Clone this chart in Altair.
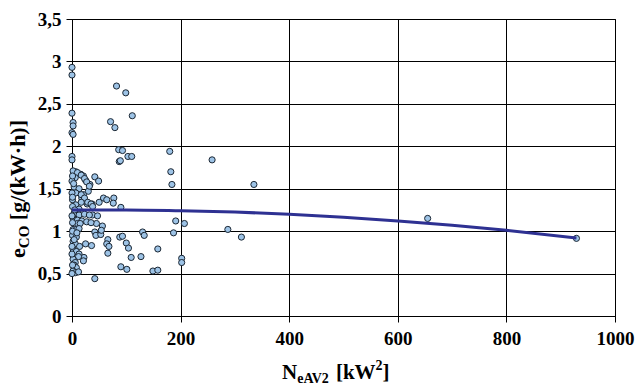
import altair as alt
import pandas as pd

# Scatter data (N_eAV2 [kW^2], e_CO [g/(kW·h)])
px = [0,0,82,99,0,2,2,0,2,71,79,111,
      0,0,86,93,87,89,103,110,180,182,258,
      184,335,191,207,187,287,312,202,202,158,149,158,109,127,90,101,42,130,133,88,93,100,104,66,64,68,66,45,42,44,53,56,54,36,25,22,21,10,2,
      42,49,58,64,77,76,50,90,37,28,33,30,25,21,16,7,21,18,38,47,
      655,929,
      2,10,17,6,23,0,27,32,4,13,7,17,1,23,29,17,35,38,7,1,13,4,13,23,32,2,10,18,27,35,10,15,2,8,13,1,8,2,6,14,2,8,13,12,2,6,4,8,2,6,12,1,1,0,0,0,0,3,5,9,4,1,0,1,1]
py = [2.93,2.84,2.71,2.63,2.39,2.28,2.24,2.16,2.14,2.29,2.22,2.36,
      1.88,1.84,1.96,1.95,1.82,1.83,1.88,1.88,1.94,1.70,1.84,
      1.55,1.55,1.12,1.09,0.98,1.02,0.93,0.68,0.63,0.79,0.53,0.54,0.69,0.70,0.58,0.55,0.44,0.99,0.95,0.93,0.94,0.86,0.80,0.90,0.85,0.82,0.74,1.09,0.99,0.95,0.96,1.06,1.01,0.83,0.85,0.69,0.65,0.52,0.53,
      1.64,1.59,1.39,1.37,1.39,1.33,1.34,1.28,1.32,1.32,1.55,1.47,1.60,1.65,1.67,1.70,1.43,1.39,1.19,1.18,
      1.15,0.915,
      1.71,1.69,1.66,1.63,1.62,1.59,1.58,1.53,1.52,1.50,1.45,1.43,1.37,1.39,1.34,1.34,1.32,1.29,1.31,1.29,1.26,1.21,1.19,1.20,1.19,1.15,1.13,1.12,1.11,1.10,1.09,1.09,1.02,1.02,1.03,0.95,0.93,0.88,0.85,0.82,0.79,0.76,0.73,0.70,0.67,0.63,0.60,0.57,0.53,0.51,0.52,1.00,1.10,1.18,1.45,0.73,0.82,1.56,1.25,0.98,0.90,0.60,0.50,1.40,1.65]

# Trend line
tx = [0, 100, 200, 300, 400, 500, 600, 700, 800, 929]
ty = [1.25, 1.25, 1.24, 1.225, 1.20, 1.165, 1.12, 1.07, 1.01, 0.92]

x_ticks = [0, 200, 400, 600, 800, 1000]
y_ticks = [0, 0.5, 1, 1.5, 2, 2.5, 3, 3.5]

FONT = "Liberation Serif"
F = 19

pts = pd.DataFrame({"x": px, "y": py})
trend = pd.DataFrame({"x": tx, "y": ty})

xscale = alt.Scale(domain=[0, 1000], nice=False, zero=False)
yscale = alt.Scale(domain=[0, 3.5], nice=False, zero=False)

common = dict(title=None, grid=True, gridColor="#000000", gridWidth=1, gridOpacity=1,
              domainColor="#000000", tickColor="#000000", tickSize=6,
              labelFont=FONT, labelFontSize=F, labelFontWeight="bold", labelColor="#000000",
              labelFlush=False, labelOverlap=False)
xaxis = alt.Axis(values=x_ticks, format="d", labelPadding=7, **common)
yaxis = alt.Axis(values=y_ticks, labelPadding=5,
                 labelExpr="replace(format(datum.value, '.1~f'), '.', ',')", **common)

scatter = alt.Chart(pts).mark_point(filled=True, shape="circle", size=38, fill="#9DC3E6",
                                    stroke="#1a2633", strokeWidth=1, opacity=1).encode(
    x=alt.X("x:Q", scale=xscale, axis=xaxis),
    y=alt.Y("y:Q", scale=yscale, axis=yaxis),
)

line = alt.Chart(trend).mark_line(color="#2E3192", strokeWidth=3, interpolate="monotone").encode(
    x=alt.X("x:Q", scale=xscale),
    y=alt.Y("y:Q", scale=yscale),
)

one = pd.DataFrame({"a": [0]})

def txt(s, x, y, size, angle=0):
    kw = dict(text=s, font=FONT, fontSize=size, fontWeight="bold", color="#000000",
              align="left", baseline="alphabetic")
    if angle:
        kw["angle"] = angle
    return alt.Chart(one).mark_text(**kw).encode(x=alt.value(x), y=alt.value(y))

# origin of the plot area in page pixels: (72, 19)
OX, OY = 72, 19
# x-axis title: N_eAV2 [kW^2]  (main 21, sub 14)
xt = [
    txt("N", 282 - OX, 379 - OY, 21),
    txt("eAV2", 297.2 - OX, 383 - OY, 14),
    txt("[kW", 335.9 - OX, 379 - OY, 21),
    txt("2", 375.6 - OX, 370 - OY, 14),
    txt("]", 382.6 - OX, 379 - OY, 21),
]
# y-axis title: e_CO [g/(kW·h)], rotated (main 22, sub 15)
ys = 258
yt = [
    txt("e", 25 - OX, ys - OY, 22, 270),
    txt("CO", 29 - OX, ys - 9.8 - OY, 15, 270),
    txt("[g/(kW·h)]", 25 - OX, ys - 9.8 - 22.5 - 5.5 - OY, 22, 270),
]

chart = alt.layer(scatter, line, *xt, *yt).properties(
    width=543, height=297,
    autosize=alt.AutoSizeParams(type="none"),
    padding={"left": 72, "top": 19, "right": 21, "bottom": 71},
    background="#ffffff",
).configure_view(stroke="#000000", strokeWidth=1)

chart.save("out.html", embed_options={"renderer": "svg", "actions": False})
